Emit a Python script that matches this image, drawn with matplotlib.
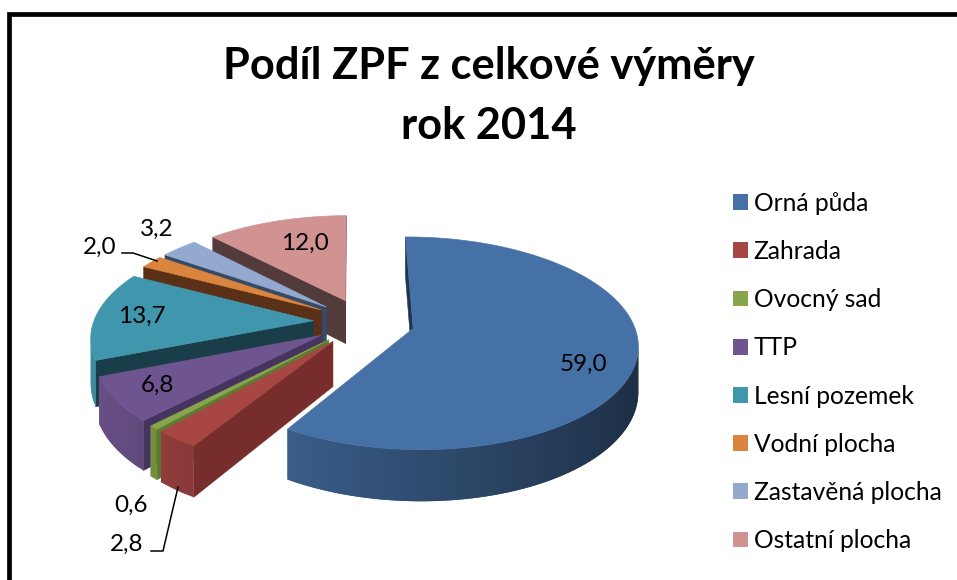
import numpy as np
import matplotlib
matplotlib.use("Agg")
import matplotlib.pyplot as plt
from matplotlib.patches import Polygon, Patch

plt.rcParams["font.family"] = ["Lato", "DejaVu Sans"]

categories = ["Orná půda", "Zahrada", "Ovocný sad", "TTP", "Lesní pozemek",
              "Vodní plocha", "Zastavěná plocha", "Ostatní plocha"]
values = [59.0, 2.8, 0.6, 6.8, 13.7, 2.0, 3.2, 12.0]
title_lines = ["Podíl ZPF z celkové výměry", "rok 2014"]

top_colors = ["#4671A6", "#A84644", "#87A54A", "#6F5590", "#4096AD", "#DA843D", "#93A9CF", "#D19392"]
cut_colors = ["#1D3552", "#772D2B", "#5E7A30", "#46335F", "#1A3E49", "#5A3117", "#364A66", "#533B3C"]

# label anchors and leader lines, in pixels
label_pos = [(583, 364), (127, 544), (131, 505), (157, 385), (142, 316), (100, 247), (157, 229), (305, 243)]
leaders = {1: [(151, 551), (163, 551), (178, 487)], 5: [(122, 253), (133, 253), (157, 261)]}

# fake 3d view
CX, CY = 364, 322
RX, RY = 220, 102.5
PERSP = 0.139
EXPLODE = 0.23
HEIGHT = 44
ROTATION = -0.5


def project(x, y, drop=0.0):
    k = 1 / (1 + PERSP * y)
    return CX + RX * x * k, CY - RY * y * k + drop * k


def shade(color, factor):
    return tuple(c * factor for c in matplotlib.colors.to_rgb(color))


def wall(ax, p, q, color, z, lw=0.4):
    # p, q are plan positions of the top edge
    a, b = project(*p), project(*q)
    c, d = project(*q, HEIGHT), project(*p, HEIGHT)
    ax.add_patch(Polygon([a, b, c, d], closed=True, fc=color, ec=color if lw else "none", lw=lw, zorder=z))


def draw_slice(ax, i, start, end, z):
    mid = np.radians((start + end) / 2)
    ox, oy = EXPLODE * np.sin(mid), EXPLODE * np.cos(mid)
    n = max(int((end - start) / 1.5), 3)
    th = np.radians(np.linspace(start, end, n))
    arc = list(zip(ox + np.sin(th), oy + np.cos(th)))
    apex = (ox, oy)

    # only edges running to the left on screen face the viewer
    if project(*arc[0])[0] < project(*apex)[0]:
        wall(ax, apex, arc[0], cut_colors[i], z)
    for j in range(n - 1):
        if project(*arc[j + 1])[0] < project(*arc[j])[0]:
            f = (np.sin((th[j] + th[j + 1]) / 2) + 1) / 2
            # reach one step further so the next strip overlaps and no seams show
            wall(ax, arc[j], arc[min(j + 2, n - 1)], shade(top_colors[i], 0.95 - 0.55 * f), z + 0.1, lw=0)
    if project(*apex)[0] < project(*arc[-1])[0]:
        wall(ax, arc[-1], apex, cut_colors[i], z)

    top = [project(*apex)] + [project(*p) for p in arc]
    ax.add_patch(Polygon(top, closed=True, fc=top_colors[i], ec=top_colors[i], lw=0.4, zorder=z + 0.2))


fig = plt.figure(figsize=(9.57, 5.8), dpi=100)
ax = fig.add_axes([0, 0, 1, 1])
ax.set_xlim(0, 957)
ax.set_ylim(580, 0)
ax.axis("off")

# chart frame, only left and top show in the crop
ax.plot([8.5, 8.5, 957], [580, 13.5, 13.5], color="black", lw=3.4, solid_joinstyle="miter", zorder=1)

shares = np.array(values) / sum(values) * 360
starts = ROTATION + np.concatenate([[0], np.cumsum(shares)[:-1]])
ends = starts + shares
mids = np.radians((starts + ends) / 2)

# back to front
for rank, i in enumerate(np.argsort(-np.cos(mids))):
    draw_slice(ax, i, starts[i], ends[i], 3 + rank)

for i, (x, y) in enumerate(label_pos):
    ax.text(x, y, f"{values[i]:.1f}".replace(".", ","), ha="center", va="center", fontsize=17.5, zorder=20)
for pts in leaders.values():
    xs, ys = zip(*pts)
    ax.plot(xs, ys, color="black", lw=1.1, zorder=20)

ax.text(489, 66, title_lines[0], ha="center", va="center", fontsize=31.2, fontweight="bold")
ax.text(489, 126, title_lines[1], ha="center", va="center", fontsize=31.2, fontweight="bold")

handles = [Patch(fc=c, ec="none", label=l) for c, l in zip(top_colors, categories)]
ax.legend(handles=handles, loc="upper left", bbox_to_anchor=(723 / 957, 1 - 182 / 580), frameon=False,
          fontsize=17.7, labelspacing=1.025, handlelength=0.61, handleheight=0.61, handletextpad=0.24,
          borderpad=0.4, borderaxespad=0, labelcolor="black")

fig.savefig("out.png", dpi=100)
